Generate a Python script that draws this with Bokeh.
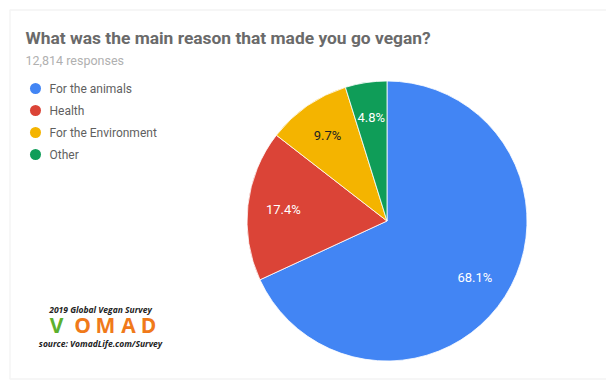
from math import pi
import numpy as np
from bokeh.plotting import figure
from bokeh.models import Range1d, ColumnDataSource, BoxAnnotation
from bokeh.core.properties import value
from bokeh.embed import file_html
from bokeh.resources import INLINE

# ---- data ----
categories = ["For the animals", "Health", "For the Environment", "Other"]
shares = [68.1, 17.4, 9.7, 4.8]
colors = ["#4285F4", "#DB4437", "#F4B400", "#0F9D58"]
label_colors = ["#ffffff", "#ffffff", "#222222", "#ffffff"]
title = "What was the main reason that made you go vegan?"
subtitle = "12,814 responses"

W, H = 606, 381
p = figure(width=W, height=H, output_backend="svg", toolbar_location=None,
           x_range=Range1d(0, W), y_range=Range1d(0, H), min_border=0)
p.axis.visible = False
p.grid.visible = False
p.outline_line_color = None
p.background_fill_color = "white"

def Y(py):
    return H - py

# card border
p.add_layout(BoxAnnotation(left=9.5, right=W + 5, bottom=Y(378.5), top=Y(9.5),
                           fill_alpha=0, line_color="#d9d9d9", line_width=1.5))

# pie
cx, cy, R = 386.5, Y(220.5), 140
frac = np.array(shares) / sum(shares)
cum = np.concatenate([[0], np.cumsum(frac)])
start = pi / 2 - 2 * pi * cum[:-1]
end = pi / 2 - 2 * pi * cum[1:]
mid = (start + end) / 2
src = ColumnDataSource(dict(start=start, end=end, color=colors,
                            lx=cx + 0.745 * R * np.cos(mid), ly=cy + 0.745 * R * np.sin(mid),
                            lab=[f"{s:.1f}%" for s in shares], lc=label_colors))
p.wedge(x=cx, y=cy, radius=R, radius_units="screen", start_angle="start", end_angle="end",
        direction="clock", fill_color="color", line_color="white", line_width=0.8, source=src)
p.text(x="lx", y="ly", text="lab", text_color="lc", text_font=value("Roboto"),
       text_font_size="13px", text_align="center", text_baseline="middle", source=src)

# title
p.text(x=[25], y=[Y(37)], text=[title], text_font=value("Roboto"), text_font_style="bold",
       text_font_size="17.4px", text_color="#6a6a6a", text_baseline="middle")
p.text(x=[25], y=[Y(60)], text=[subtitle], text_font=value("Roboto"),
       text_font_size="12.5px", text_color="#b0b0b0", text_baseline="middle")

# legend
ly = [Y(88 + 22 * i) for i in range(len(categories))]
p.scatter(x=[35] * len(categories), y=ly, size=11, fill_color=colors, line_color=None)
p.text(x=[49] * len(categories), y=ly, text=categories, text_font=value("Roboto"),
       text_font_size="12px", text_color="#5f5f5f", text_baseline="middle")

# logo
p.text(x=[100], y=[Y(309)], text=["2019 Global Vegan Survey"], text_font=value("Open Sans"),
       text_font_style="bold italic", text_font_size="8.5px", text_color="#222222",
       text_align="center", text_baseline="middle")
logo_letters = ["V", "O", "M", "A", "D"]
logo_x = [56, 82, 105, 128, 148]
logo_colors = ["#5DB02E", "#F07A1A", "#F07A1A", "#F07A1A", "#F07A1A"]
p.text(x=logo_x, y=[Y(324)] * 5, text=logo_letters, text_color=logo_colors,
       text_font=value("Open Sans"), text_font_style="bold", text_font_size="21px",
       text_align="center", text_baseline="middle")
p.text(x=[100], y=[Y(343)], text=["source: VomadLife.com/Survey"], text_font=value("Open Sans"),
       text_font_style="bold italic", text_font_size="8.5px", text_color="#222222",
       text_align="center", text_baseline="middle")

open("out.html", "w").write(file_html(p, INLINE))
